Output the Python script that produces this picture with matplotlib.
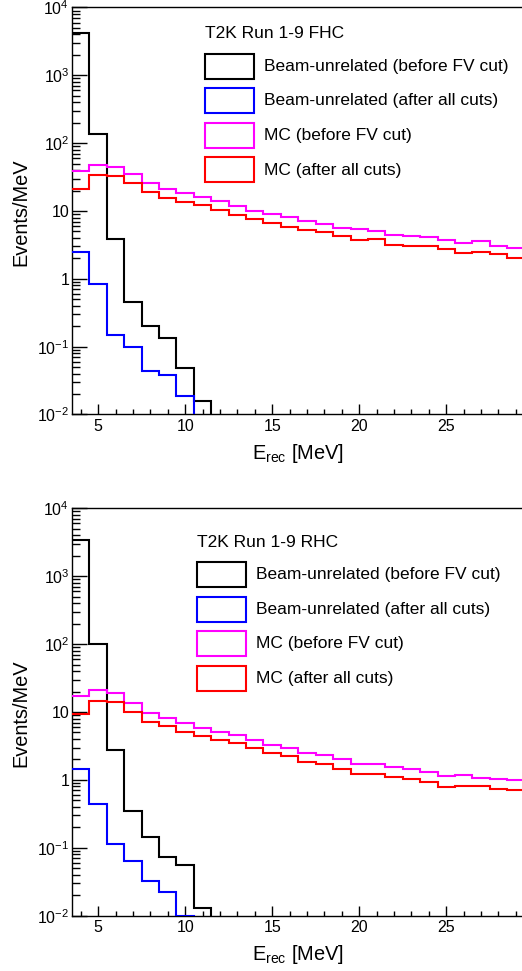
import matplotlib
matplotlib.use("Agg")
import matplotlib.pyplot as plt
import matplotlib.ticker as ticker
from matplotlib.patches import Rectangle
import numpy as np

# 1 MeV bins from 3.5 to 29.5 MeV
bin_edges = np.arange(3.5, 30.0, 1.0)

# FHC (top panel), events/MeV
fhc_bkg_before = [4200, 135, 3.9, 0.45, 0.20, 0.135, 0.048, 0.016] + [0] * 18
fhc_bkg_after = [2.45, 0.84, 0.15, 0.10, 0.044, 0.038, 0.019] + [0] * 19
fhc_mc_before = [39.2, 48, 44.9, 34.7, 25.5, 20.8, 18.2, 16.2, 14.0, 11.8, 10.0,
                 9.0, 8.05, 7.2, 6.4, 5.6, 5.4, 5.06, 4.37, 4.22, 4.17, 3.73,
                 3.33, 3.6, 3.07, 2.81]
fhc_mc_after = [20.8, 34.2, 33.0, 25.5, 19.0, 15.4, 13.7, 12.2, 10.3, 8.7, 7.6,
                6.7, 5.85, 5.28, 4.89, 4.31, 3.76, 3.81, 3.14, 3.1, 3.07, 2.77,
                2.42, 2.5, 2.29, 2.02]

# RHC (bottom panel), events/MeV
rhc_bkg_before = [3400, 100, 2.8, 0.35, 0.145, 0.074, 0.055, 0.013] + [0] * 18
rhc_bkg_after = [1.45, 0.44, 0.114, 0.065, 0.032, 0.0225, 0.01] + [0] * 19
rhc_mc_before = [17.4, 21.1, 18.8, 13.7, 9.7, 8.2, 6.9, 5.9, 5.1, 4.6, 3.87,
                 3.24, 2.92, 2.49, 2.33, 2.03, 1.73, 1.71, 1.56, 1.43, 1.29,
                 1.14, 1.17, 1.08, 1.04, 0.99]
rhc_mc_after = [9.25, 14.7, 14.2, 10.1, 7.2, 6.2, 5.1, 4.4, 3.87, 3.46, 2.92,
                2.5, 2.25, 1.85, 1.70, 1.45, 1.23, 1.23, 1.11, 1.03, 0.92,
                0.79, 0.82, 0.81, 0.73, 0.71]

series_labels = ["Beam-unrelated (before FV cut)",
                 "Beam-unrelated (after all cuts)",
                 "MC (before FV cut)",
                 "MC (after all cuts)"]
series_colors = ["#000000", "#0000ff", "#ff00ff", "#ff0000"]

ytick_vals = [1e-2, 1e-1, 1, 10, 1e2, 1e3, 1e4]
ytick_labels = [r"$10^{-2}$", r"$10^{-1}$", "1", "10",
                r"$10^{2}$", r"$10^{3}$", r"$10^{4}$"]
xtick_vals = [5, 10, 15, 20, 25]

W, H = 522, 971

plt.rcParams.update({
    "font.family": ["Liberation Sans", "DejaVu Sans"],
    "mathtext.fontset": "custom",
    "mathtext.rm": "Liberation Sans",
    "mathtext.it": "Liberation Sans:italic",
    "mathtext.default": "regular",
    "axes.linewidth": 1.0,
})


def draw_panel(ax, hists, title, leg_x, leg_y):
    for vals, color in zip(hists, series_colors):
        v = np.asarray(vals, dtype=float)
        v = np.where(v > 0, v, 1e-5)  # empty bins fall below the frame
        ax.stairs(v, bin_edges, color=color, linewidth=1.5, baseline=None, zorder=3)

    ax.set_yscale("log")
    ax.set_ylim(1e-2, 1e4)
    ax.set_xlim(3.5, 29.5)
    ax.set_yticks(ytick_vals)
    ax.set_yticklabels(ytick_labels)
    ax.yaxis.set_minor_locator(ticker.LogLocator(base=10, subs=np.arange(2, 10), numticks=20))
    ax.yaxis.set_minor_formatter(ticker.NullFormatter())
    ax.set_xticks(xtick_vals)
    ax.xaxis.set_minor_locator(ticker.MultipleLocator(1))

    ax.tick_params(axis="x", which="major", direction="in", length=7, width=1,
                   labelsize=11.5, pad=3, top=False)
    ax.tick_params(axis="x", which="minor", direction="in", length=3.5, width=1, top=False)
    ax.tick_params(axis="y", which="major", direction="in", length=11, width=1,
                   labelsize=11.5, pad=2, right=False)
    ax.tick_params(axis="y", which="minor", direction="in", length=5.5, width=1, right=False)
    ax.spines["right"].set_visible(False)

    ax.set_ylabel("Events/MeV", fontsize=14.4)
    ax.yaxis.set_label_coords(-0.093, 0.497)
    ax.text(0.5, -0.095, r"E$_{\rm rec}$ [MeV]", transform=ax.transAxes,
            ha="center", va="center", fontsize=14.4)

    # hand-placed legend in ROOT style (pixel positions of the reference)
    fig = ax.figure
    fig.text(leg_x / W, 1 - (leg_y - 20) / H, title, ha="left", va="center",
             fontsize=12.5)
    for i, (lab, color) in enumerate(zip(series_labels, series_colors)):
        top = leg_y + i * 34.5
        fig.patches.append(Rectangle((leg_x / W, 1 - (top + 25) / H), 49 / W, 25 / H,
                                     transform=fig.transFigure, fill=False,
                                     edgecolor=color, linewidth=1.5))
        fig.text((leg_x + 59) / W, 1 - (top + 12.5) / H, lab, ha="left", va="center",
                 fontsize=12.5)


fig = plt.figure(figsize=(W / 100, H / 100), dpi=100)
ax_top = fig.add_axes([72 / W, 1 - 414.5 / H, 452.6 / W, 407 / H])
ax_bot = fig.add_axes([72 / W, 1 - 915.7 / H, 452.6 / W, 407.4 / H])

draw_panel(ax_top, [fhc_bkg_before, fhc_bkg_after, fhc_mc_before, fhc_mc_after],
           "T2K Run 1-9 FHC", 205, 54)
draw_panel(ax_bot, [rhc_bkg_before, rhc_bkg_after, rhc_mc_before, rhc_mc_after],
           "T2K Run 1-9 RHC", 196.7, 562.3)

fig.savefig("out.png", dpi=100)
